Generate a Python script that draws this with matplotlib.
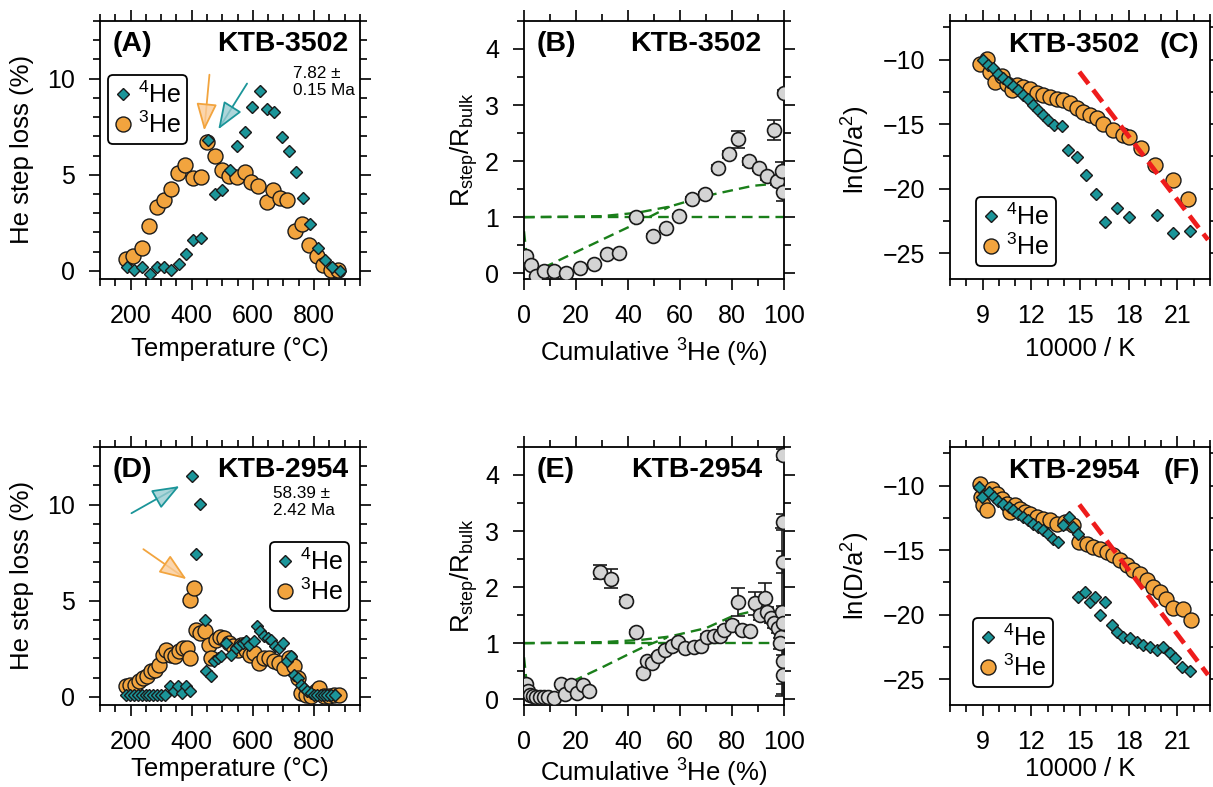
import matplotlib
matplotlib.use("Agg")
import matplotlib.pyplot as plt
from matplotlib.ticker import MultipleLocator

plt.rcParams.update({
    "font.family": ["Liberation Sans", "DejaVu Sans"],
    "mathtext.fontset": "custom",
    "mathtext.rm": "Liberation Sans",
    "mathtext.it": "Liberation Sans:italic",
    "mathtext.bf": "Liberation Sans:bold",
    "mathtext.default": "regular",
    "axes.linewidth": 1.3,
})

# ---------------- data ----------------
# (A) KTB-3502 step loss
A_T4 = [187, 212, 236, 263, 286, 310, 333, 358, 382, 404, 429, 453, 476, 500, 524, 547, 573, 598, 623, 646,
        670, 695, 718, 741, 764, 788, 813, 835, 859, 884]
A_L4 = [0.2, 0.07, 0.2, -0.17, 0.2, 0.2, 0.07, 0.38, 0.9, 1.6, 1.73, 6.8, 4.0, 4.23, 5.27, 6.5, 7.2, 8.5, 9.36, 8.4,
        8.25, 6.97, 6.24, 5.15, 3.8, 2.46, 1.21, 0.55, 0.2, 0.0]
A_T3 = [184, 209, 236, 261, 286, 310, 333, 356, 379, 403, 429, 451, 476, 499, 522, 547, 573, 594, 618, 645,
        665, 689, 713, 737, 761, 784, 809, 830, 854, 880]
A_L3 = [0.64, 0.8, 1.2, 2.36, 3.3, 3.7, 4.28, 5.1, 5.5, 4.83, 4.9, 6.7, 6.0, 5.27, 4.94, 4.9, 5.13, 4.63, 4.42, 3.6,
        4.2, 3.8, 3.67, 2.1, 2.43, 1.33, 0.8, 0.3, 0.03, 0.07]

# (B) KTB-3502 ratio
B_x = [0.9, 2.8, 4.8, 7.6, 11.5, 16.3, 21.5, 27, 31.8, 36.7, 43.2, 49.5, 54.7, 59.6, 64.7, 69.6, 74.5, 79,
       82.4, 86.5, 90.3, 93.6, 96.1, 97.4, 99.4, 99.8, 99.9]
B_y = [0.31, 0.15, -0.04, 0.05, 0.05, 0.0, 0.09, 0.17, 0.34, 0.36, 1.0, 0.67, 0.8, 1.03, 1.32, 1.41, 1.88, 2.12,
       2.39, 2.0, 1.88, 1.73, 2.55, 1.64, 1.82, 1.45, 3.22]
B_err = [0.03, 0.02, 0.02, 0.02, 0.02, 0.02, 0.02, 0.02, 0.02, 0.02, 0.03, 0.03, 0.03, 0.03, 0.04, 0.04, 0.05, 0.06,
         0.15, 0.06, 0.06, 0.06, 0.18, 0.07, 0.17, 0.16, 0.05]
B_hi_x = [0, 30, 43.5, 56, 70, 80, 88, 97]
B_hi_y = [1.0, 1.02, 1.08, 1.19, 1.38, 1.48, 1.56, 1.6]
B_lo_x = [0, 1, 3, 8.8, 20, 30, 40, 48, 56]
B_lo_y = [0.75, 0.3, 0.08, 0.13, 0.38, 0.6, 0.82, 1.0, 1.19]

# (C) KTB-3502 Arrhenius
C_x3 = [8.86, 9.27, 9.47, 9.78, 10.19, 10.5, 10.8, 11.1, 11.5, 11.9, 12.34, 12.75, 13.16, 13.57, 13.98, 14.38,
        14.8, 15.16, 15.61, 16.02, 16.43, 17.05, 17.66, 18.03, 18.75, 19.6, 20.73, 21.66]
C_y3 = [-10.31, -9.92, -10.95, -11.72, -11.28, -11.9, -12.36, -11.98, -12.16, -12.31, -12.57, -12.75, -12.88,
        -13.08, -13.13, -13.39, -13.78, -14.03, -14.29, -14.55, -14.98, -15.45, -15.83, -15.96, -16.86, -18.14,
        -19.3, -20.84]
C_x4 = [9.0, 9.33, 9.63, 9.94, 10.25, 10.58, 10.88, 11.19, 11.52, 11.83, 12.13, 12.44, 12.75, 13.05, 13.38,
        13.91, 14.24, 14.8, 15.37, 15.98, 16.52, 17.25, 18.01, 19.71, 20.73, 21.76]
C_y4 = [-10.0, -10.39, -10.69, -11.08, -11.39, -11.72, -12.05, -12.36, -12.75, -13.08, -13.52, -13.9, -14.29,
        -14.68, -15.06, -15.11, -17.04, -17.55, -18.91, -20.4, -22.59, -21.53, -22.2, -22.07, -23.46, -23.28]
C_fit_x = [14.96, 22.88]
C_fit_y = [-10.95, -23.97]

# (D) KTB-2954 step loss
D_T4 = [184, 197, 210, 223, 236, 249, 262, 275, 288, 301, 314, 328, 342, 355, 369, 382, 395,
        401, 415, 428, 442, 447, 464, 474, 485, 496, 512, 529, 545, 556, 567, 578, 588, 603, 613,
        624, 637, 648, 659, 672, 686, 700, 713, 724, 735, 746, 757, 767, 778, 789, 800, 811, 822,
        833, 843, 854, 868]
D_L4 = [0.1, 0.1, 0.1, 0.1, 0.1, 0.1, 0.1, 0.1, 0.1, 0.1, 0.1, 0.55, 0.33, 0.55, 0.2, 0.55, 0.3,
        11.5, 7.45, 10.03, 4.02, 1.33, 1.07, 1.85, 2.03, 2.11, 2.81, 2.2, 2.55, 2.72, 2.81, 2.89, 2.72, 2.89, 3.67,
        3.41, 3.15, 3.07, 2.98, 2.63, 2.55, 2.81, 1.85, 2.11, 1.16, 0.99, 0.64, 0.47, 0.29, 0.21, 0.12, 0.09, 0.09,
        0.09, 0.09, 0.09, 0.09]
D_T3 = [184, 198, 214, 227, 241, 254, 266, 279, 292, 305, 317, 331, 344, 357, 371, 384, 393, 393, 407, 413,
        426, 442, 455, 464, 480, 494, 507, 521, 534, 550, 561, 578, 592, 605, 621, 637, 654, 670, 686, 702,
        719, 733, 746, 757, 773, 789, 805, 816, 833, 849, 865, 881]
D_L3 = [0.55, 0.64, 0.6, 0.81, 0.99, 1.07, 1.33, 1.42, 1.68, 2.2, 2.46, 2.2, 2.11, 2.37, 2.55, 2.55, 2.03, 5.06,
        5.67, 3.5, 3.33, 3.41, 2.72, 2.03, 2.98, 3.1, 3.07, 2.81, 2.63, 2.46, 2.72, 2.46, 2.2, 2.29, 1.77, 2.03,
        2.03, 1.85, 1.77, 1.51, 2.03, 1.59, 0.99, 0.21, 0.12, 0.03, 0.29, 0.47, 0.03, 0.03, 0.12, 0.09]

# (E) KTB-2954 ratio
E_x = [0.9, 1.5, 2.2, 3.5, 4.8, 6, 7.6, 9.3, 11.5, 14.2, 15.7, 17.9, 20.2, 22.5, 25, 29.3, 33.3, 39.3, 42.9,
       45.8, 47.2, 49.4, 51.7, 54.3, 56.9, 59.1, 62, 65.3, 68, 70.4, 73, 75.3, 76.8, 80, 82.4, 83.9, 87.1, 88.7,
       90.6, 92.7, 93.6, 94.9, 96.1, 97.7, 98.7, 98.5, 99.4, 99.8, 99.7, 99.6, 99.5, 99.5, 99.5]
E_y = [0.27, 0.15, 0.07, 0.06, 0.05, 0.05, 0.05, 0.05, 0.03, 0.27, 0.09, 0.25, 0.12, 0.25, 0.15, 2.27, 2.15,
       1.76, 1.2, 0.47, 0.68, 0.65, 0.77, 0.88, 0.96, 1.03, 0.91, 0.94, 0.96, 1.12, 1.13, 1.13, 1.24, 1.33, 1.74,
       1.24, 1.21, 1.71, 1.5, 1.8, 1.56, 1.45, 1.36, 1.27, 1.12, 1.0, 1.56, 1.36, 0.68, 0.44, 4.36, 3.16, 2.45]
E_err = [0.06, 0.03, 0.03, 0.03, 0.03, 0.03, 0.03, 0.03, 0.03, 0.03, 0.03, 0.03, 0.03, 0.03, 0.03, 0.13, 0.17,
         0.06, 0.04, 0.03, 0.03, 0.03, 0.03, 0.03, 0.03, 0.03, 0.03, 0.03, 0.03, 0.04, 0.04, 0.04, 0.05, 0.06, 0.25,
         0.06, 0.06, 0.2, 0.08, 0.27, 0.08, 0.08, 0.08, 0.08, 0.1, 0.1, 1.5, 0.3, 0.4, 0.35, 0.1, 0.15, 0.2]
E_hi_x = [0, 30, 45, 56, 70, 80.5, 87, 90]
E_hi_y = [1.0, 1.02, 1.06, 1.12, 1.27, 1.49, 1.56, 1.58]
E_lo_x = [0, 1, 3, 10, 17.7, 30, 40, 47.2, 55]
E_lo_y = [0.75, 0.3, 0.05, 0.13, 0.3, 0.57, 0.8, 0.96, 1.1]

# (F) KTB-2954 Arrhenius
F_x3 = [8.86, 8.92, 9.06, 9.27, 9.57, 9.88, 10.19, 10.5, 10.7, 11.0, 11.31, 11.62, 11.93, 12.34, 12.75, 13.16,
        13.57, 14.08, 14.59, 14.96, 15.41, 15.82, 16.23, 16.64, 17.05, 17.46, 17.87, 18.28, 18.69, 19.1, 19.51,
        19.92, 20.32, 20.73, 21.35, 21.86]
F_y3 = [-9.87, -10.9, -11.54, -11.93, -10.26, -10.64, -11.03, -11.41, -12.06, -11.54, -11.8, -12.06, -12.19,
        -12.44, -12.57, -12.7, -12.96, -12.83, -13.09, -14.37, -14.5, -14.76, -14.89, -15.15, -15.4, -15.74,
        -16.17, -16.56, -16.82, -17.33, -17.85, -18.23, -18.75, -19.52, -19.6, -20.42]
F_x4 = [8.8, 8.96, 9.37, 9.68, 9.98, 10.29, 10.6, 10.9, 11.21, 11.52, 11.83, 12.13, 12.44, 12.75, 13.05, 13.36,
        13.67, 13.94, 14.35, 14.59, 14.9, 14.9, 15.31, 15.61, 15.92, 16.23, 16.54, 16.95, 17.25, 17.66, 18.07,
        18.48, 18.89, 19.3, 19.71, 20.12, 20.53, 20.84, 21.25, 21.76]
F_y4 = [-10.08, -10.9, -10.51, -10.85, -11.16, -11.41, -11.67, -11.93, -12.19, -12.44, -12.7, -12.96, -13.22,
        -13.47, -13.73, -14.12, -14.37, -13.09, -12.44, -13.22, -13.73, -18.62, -18.23, -19.0, -18.62, -20.03,
        -19.0, -20.8, -21.32, -21.71, -21.83, -22.09, -22.35, -22.48, -22.73, -22.48, -22.99, -23.38, -24.02,
        -24.36]
F_fit_x = [14.96, 22.88]
F_fit_y = [-11.47, -24.67]

# ---------------- styles ----------------
TEAL = "#1b9599"
ORANGE = "#f2a43e"
GREY = "#d4d4d4"
GREEN = "#1a7f1a"
RED = "#ee1c1c"
TICK_FS = 18
LAB_FS = 18.5
TITLE_FS = 20.5
LEG_FS = 18

fig = plt.figure(figsize=(12.13, 7.87), dpi=100)

W = 0.2143
H = 0.328
lefts = [0.0824, 0.432, 0.7832]
bottoms = [0.6455, 0.1042]
XLAB_Y = [-0.225, -0.2]


def style_axes(ax, xmaj, xmin, ymaj, ymin):
    ax.xaxis.set_major_locator(MultipleLocator(xmaj))
    ax.xaxis.set_minor_locator(MultipleLocator(xmin))
    ax.yaxis.set_major_locator(MultipleLocator(ymaj))
    ax.yaxis.set_minor_locator(MultipleLocator(ymin))
    ax.tick_params(which="both", direction="out", top=True, right=True, labelsize=TICK_FS, width=1.2)
    ax.tick_params(which="major", length=8, pad=10)
    ax.tick_params(which="minor", length=5)


def add_legend(ax, leg_kw):
    h, l = ax.get_legend_handles_labels()
    lg = ax.legend([h[1], h[0]], [l[1], l[0]], fontsize=LEG_FS, frameon=True, fancybox=True, framealpha=1,
                   edgecolor="black", handlelength=0.7, handletextpad=0.25, borderpad=0.25,
                   labelspacing=0.15, borderaxespad=0, **leg_kw)
    lg.get_frame().set_linewidth(1.3)


def arrow(ax, tail, head, color, light):
    ax.annotate("", xy=head, xytext=tail,
                arrowprops=dict(arrowstyle="-|>,head_length=1.7,head_width=0.65",
                                edgecolor=color, facecolor=light, lw=1.3,
                                shrinkA=0, shrinkB=0))


def step_panel(ax, row, T4, L4, T3, L3, label, sample, age_txt, age_pos, leg_kw):
    ax.plot(T3, L3, "o", ms=10.8, mfc=ORANGE, mec="#1a1a1a", mew=1.0, ls="none", label="$^{3}$He", zorder=3)
    ax.plot(T4, L4, "D", ms=6.4, mfc=TEAL, mec="#1a1a1a", mew=1.0, ls="none", label="$^{4}$He", zorder=4)
    ax.set_xlim(100, 950)
    ax.set_ylim(-0.42, 13)
    style_axes(ax, 200, 50, 5, 1)
    ax.set_xlabel("Temperature (°C)", fontsize=LAB_FS)
    ax.set_ylabel("He step loss (%)", fontsize=LAB_FS)
    ax.xaxis.set_label_coords(0.5, XLAB_Y[row])
    ax.yaxis.set_label_coords(-0.255, 0.5)
    ax.text(0.05, 0.912, label, transform=ax.transAxes, fontsize=TITLE_FS, fontweight="bold",
            ha="left", va="center")
    ax.text(0.955, 0.912, sample, transform=ax.transAxes, fontsize=TITLE_FS, fontweight="bold",
            ha="right", va="center")
    ax.text(age_pos[0], age_pos[1], age_txt, transform=ax.transAxes, fontsize=12.3, ha="left", va="top",
            linespacing=1.2)
    add_legend(ax, leg_kw)


def ratio_panel(ax, row, x, y, err, hi_x, hi_y, lo_x, lo_y, label, sample):
    ax.plot([0, 100], [1, 1], color=GREEN, lw=1.7, dashes=(4.5, 2.6), zorder=2)
    ax.plot(hi_x, hi_y, color=GREEN, lw=1.7, dashes=(4.5, 2.6), zorder=2)
    ax.plot(lo_x, lo_y, color=GREEN, lw=1.7, dashes=(4.5, 2.6), zorder=2)
    ax.errorbar(x, y, yerr=err, fmt="o", ms=10, mfc=GREY, mec="#1a1a1a", mew=1.2,
                ecolor="#1a1a1a", elinewidth=1.2, capsize=5, capthick=1.2, zorder=3)
    ax.set_xlim(0, 100)
    ax.set_ylim(-0.1, 4.5)
    style_axes(ax, 20, 10, 1, 0.5)
    ax.set_xlabel("Cumulative $^{3}$He (%)", fontsize=LAB_FS)
    ax.set_ylabel("R$_{step}$/R$_{bulk}$", fontsize=LAB_FS)
    ax.xaxis.set_label_coords(0.5, XLAB_Y[row])
    ax.yaxis.set_label_coords(-0.17, 0.5)
    ax.text(0.05, 0.91, label, transform=ax.transAxes, fontsize=TITLE_FS, fontweight="bold",
            ha="left", va="center")
    ax.text(0.915, 0.91, sample, transform=ax.transAxes, fontsize=TITLE_FS, fontweight="bold",
            ha="right", va="center")


def arr_panel(ax, row, x3, y3, x4, y4, fx, fy, label, sample, leg_kw):
    ax.plot(x3, y3, "o", ms=10.8, mfc=ORANGE, mec="#1a1a1a", mew=1.0, ls="none", label="$^{3}$He", zorder=3)
    ax.plot(x4, y4, "D", ms=6.4, mfc=TEAL, mec="#1a1a1a", mew=1.0, ls="none", label="$^{4}$He", zorder=4)
    ax.plot(fx, fy, color=RED, lw=3.4, dashes=(3.2, 1.6), zorder=5, solid_capstyle="butt")
    ax.set_xlim(7, 23)
    ax.set_ylim(-27, -7)
    style_axes(ax, 3, 1, 5, 2.5)
    ax.set_xlabel("10000 / K", fontsize=LAB_FS)
    ax.set_ylabel("ln(D/a$^{2}$)", fontsize=LAB_FS)
    ax.xaxis.set_label_coords(0.5, XLAB_Y[row])
    ax.yaxis.set_label_coords(-0.3, 0.5)
    ax.text(0.727, 0.907, sample, transform=ax.transAxes, fontsize=TITLE_FS, fontweight="bold",
            ha="right", va="center")
    ax.text(0.96, 0.907, label, transform=ax.transAxes, fontsize=TITLE_FS, fontweight="bold",
            ha="right", va="center")
    add_legend(ax, leg_kw)


axA = fig.add_axes([lefts[0], bottoms[0], W, H])
axB = fig.add_axes([lefts[1], bottoms[0], W, H])
axC = fig.add_axes([lefts[2], bottoms[0], W, H])
axD = fig.add_axes([lefts[0], bottoms[1], W, H])
axE = fig.add_axes([lefts[1], bottoms[1], W, H])
axF = fig.add_axes([lefts[2], bottoms[1], W, H])

step_panel(axA, 0, A_T4, A_L4, A_T3, A_L3, "(A)", "KTB-3502", "7.82 ±\n0.15 Ma", (0.742, 0.825),
           dict(loc="upper left", bbox_to_anchor=(0.03, 0.79)))
arrow(axA, (458, 10.2), (441, 7.3), ORANGE, (0.98, 0.80, 0.60, 0.8))
arrow(axA, (581, 9.74), (487, 7.36), TEAL, (0.60, 0.80, 0.82, 0.8))

ratio_panel(axB, 0, B_x, B_y, B_err, B_hi_x, B_hi_y, B_lo_x, B_lo_y, "(B)", "KTB-3502")
arr_panel(axC, 0, C_x3, C_y3, C_x4, C_y4, C_fit_x, C_fit_y, "(C)", "KTB-3502",
          dict(loc="lower left", bbox_to_anchor=(0.1, 0.05)))

step_panel(axD, 1, D_T4, D_L4, D_T3, D_L3, "(D)", "KTB-2954", "58.39 ±\n2.42 Ma", (0.664, 0.85),
           dict(loc="upper right", bbox_to_anchor=(0.96, 0.63)))
arrow(axD, (203, 9.55), (360, 10.96), TEAL, (0.60, 0.80, 0.82, 0.8))
arrow(axD, (242, 7.68), (383, 6.12), ORANGE, (0.98, 0.80, 0.60, 0.8))

ratio_panel(axE, 1, E_x, E_y, E_err, E_hi_x, E_hi_y, E_lo_x, E_lo_y, "(E)", "KTB-2954")
arr_panel(axF, 1, F_x3, F_y3, F_x4, F_y4, F_fit_x, F_fit_y, "(F)", "KTB-2954",
          dict(loc="lower left", bbox_to_anchor=(0.09, 0.07)))

fig.savefig("out.png", dpi=100)
